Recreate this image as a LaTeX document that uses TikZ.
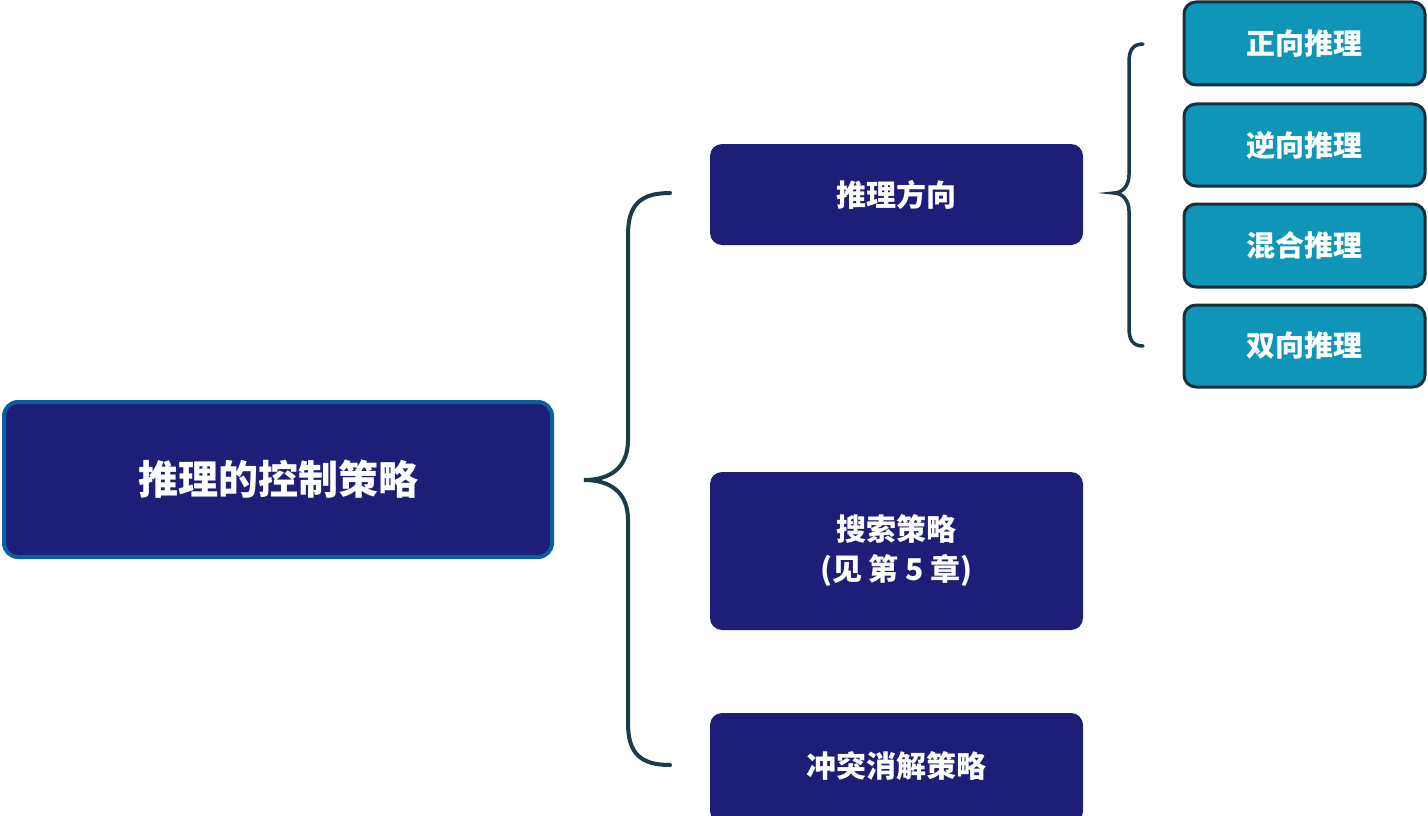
\documentclass[tikz,border=0pt]{standalone}
\usepackage{fontspec}
\setmainfont{Noto Sans CJK SC}
\definecolor{navy}{HTML}{1E1E78}
\definecolor{rootedge}{HTML}{0A5FA0}
\definecolor{teal}{HTML}{0E95B8}
\definecolor{tealedge}{HTML}{16303E}
\definecolor{brace}{HTML}{1C3A48}
\begin{document}
\begin{tikzpicture}[x=1pt,y=-1pt,
  rootbox/.style={draw=rootedge,line width=4pt,fill=navy,rounded corners=14pt,text=white,font=\fontsize{40}{46}\selectfont\bfseries},
  midbox/.style={fill=navy,rounded corners=12pt,text=white,align=center,font=\fontsize{30}{40}\selectfont\bfseries},
  leafbox/.style={draw=tealedge,line width=3pt,fill=teal,rounded corners=12pt,text=white,font=\fontsize{29}{34}\selectfont\bfseries},
  bracel/.style={draw=brace,line width=4pt,line cap=round}]
\useasboundingbox (0,0) rectangle (1428,816);
\node[rootbox,minimum width=548pt,minimum height=155pt] (root) at (278,479.5) {推理的控制策略};
\node[midbox,minimum width=373pt,minimum height=101pt] (m1) at (896.5,194.5) {推理方向};
\node[midbox,minimum width=373pt,minimum height=158pt] (m2) at (896.5,551) {搜索策略\\(见 第 5 章)};
\begin{scope}
\clip (0,0) rectangle (1428,816);
\node[midbox,minimum width=373pt,minimum height=110pt] (m3) at (896.5,768) {};
\end{scope}
\node[text=white,font=\fontsize{30}{40}\selectfont\bfseries] (m3t) at (896.5,766) {冲突消解策略};
\node[leafbox,minimum width=241pt,minimum height=83pt] (l1) at (1304.5,43.5) {正向推理};
\node[leafbox,minimum width=241pt,minimum height=82pt] (l2) at (1304.5,145) {逆向推理};
\node[leafbox,minimum width=241pt,minimum height=83pt] (l3) at (1304.5,245.5) {混合推理};
\node[leafbox,minimum width=241pt,minimum height=82pt] (l4) at (1304.5,346) {双向推理};
% big brace
\coordinate (bt) at (670,193);
\coordinate (bb) at (670,765);
\coordinate (btip) at (584,480);
\draw[bracel] (bt) .. controls (640,193) and (628,205) .. (628,235) -- (628,440)
  .. controls (628,468) and (610,480) .. (btip)
  .. controls (610,480) and (628,492) .. (628,520) -- (628,723)
  .. controls (628,753) and (640,765) .. (bb);
% small brace
\coordinate (st) at (1143,44);
\coordinate (sb) at (1143,346);
\coordinate (stip) at (1114,193);
\draw[bracel,line width=3.5pt] (st) .. controls (1133,44) and (1129,50) .. (1129,62) -- (1129,175)
  .. controls (1129,186) and (1122,193) .. (stip)
  .. controls (1122,193) and (1129,200) .. (1129,211) -- (1129,328)
  .. controls (1129,340) and (1133,346) .. (sb);
\end{tikzpicture}
\end{document}
